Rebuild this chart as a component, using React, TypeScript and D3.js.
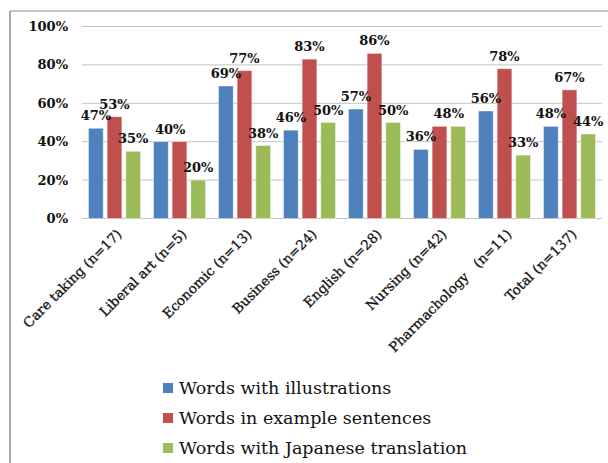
import React from 'react'
import * as d3 from 'd3'

const categories = [
  'Care taking (n=17)',
  'Liberal art (n=5)',
  'Economic (n=13)',
  'Business (n=24)',
  'English (n=28)',
  'Nursing (n=42)',
  'Pharmachology\u00a0\u00a0\u00a0(n=11)',
  'Total (n=137)',
]
const seriesNames = [
  'Words with illustrations',
  'Words in example sentences',
  'Words with Japanese translation',
]
const illustrations = [47, 40, 69, 46, 57, 36, 56, 48]
const exampleSentences = [53, 40, 77, 83, 86, 48, 78, 67]
const japaneseTranslation = [35, 20, 38, 50, 50, 48, 33, 44]
const yTicks = [0, 20, 40, 60, 80, 100]
const colors = ['#4f81bd', '#c0504d', '#9bbb59']

const W = 608
const H = 463
const serif = "'DejaVu Serif', 'Liberation Serif', serif"

export default function App() {
  const series = [illustrations, exampleSentences, japaneseTranslation]
  const x = d3.scaleBand().domain(categories).range([82, 602]).padding(0)
  const xs = d3
    .scaleBand()
    .domain(seriesNames)
    .range([6.5, x.bandwidth() - 6.5])
    .paddingInner(0.21)
  const y = d3.scaleLinear().domain([0, 100]).range([218.5, 26.5])

  // value labels; two equal neighbours in a group share one label
  const labels: { cx: number; v: number }[] = []
  categories.forEach((c, i) => {
    let s = 0
    while (s < 3) {
      const v = series[s][i]
      const cx = x(c)! + xs(seriesNames[s])! + xs.bandwidth() / 2
      if (s < 2 && series[s + 1][i] === v) {
        const cx2 = x(c)! + xs(seriesNames[s + 1])! + xs.bandwidth() / 2
        labels.push({ cx: (cx + cx2) / 2, v })
        s += 2
      } else {
        labels.push({ cx, v })
        s += 1
      }
    }
  })

  return (
    <svg
      width={W}
      height={H}
      style={{ position: 'absolute', left: 0, top: 0, background: '#fff', fontFamily: serif }}
    >
      <line x1={10} x2={W} y1={11} y2={11} stroke="#8c8c8c" strokeWidth={1.2} />
      <line x1={10} x2={10} y1={11} y2={H} stroke="#8c8c8c" strokeWidth={1.5} />

      {yTicks.map((t) => (
        <g key={t}>
          <line x1={82} x2={602} y1={y(t)} y2={y(t)} stroke="#c4c4c4" strokeWidth={1} />
          <text
            x={68}
            y={y(t)}
            dy="0.35em"
            textAnchor="end"
            fontSize={13}
            fontWeight="bold"
            fill="#111"
          >
            {t}%
          </text>
        </g>
      ))}

      {categories.map((c, i) => (
        <g key={c} transform={`translate(${x(c)},0)`}>
          {series.map((vals, s) => (
            <rect
              key={s}
              x={xs(seriesNames[s])}
              y={y(vals[i])}
              width={xs.bandwidth()}
              height={y(0) - y(vals[i])}
              fill={colors[s]}
              stroke="#fff"
              strokeOpacity={0.5}
              strokeWidth={0.8}
            />
          ))}
        </g>
      ))}

      {labels.map((l, i) => (
        <text
          key={i}
          x={l.cx}
          y={y(l.v) - 8}
          textAnchor="middle"
          fontSize={13}
          fontWeight="bold"
          fill="#111"
        >
          {l.v}%
        </text>
      ))}

      {categories.map((c) => {
        const cx = x(c)! + x.bandwidth() / 2 + 8
        return (
          <text
            key={c}
            transform={`translate(${cx},235) rotate(-45)`}
            textAnchor="end"
            fontSize={13.5}
            fill="#111"
            stroke="#111"
            strokeWidth={0.3}
          >
            {c}
          </text>
        )
      })}

      {seriesNames.map((n, s) => (
        <g key={n} transform={`translate(163,${388 + s * 30})`}>
          <rect x={0} y={-5} width={10} height={10} fill={colors[s]} />
          <text x={16} dy="0.35em" fill="#111" fontSize={17.5}>
            {n}
          </text>
        </g>
      ))}
    </svg>
  )
}
